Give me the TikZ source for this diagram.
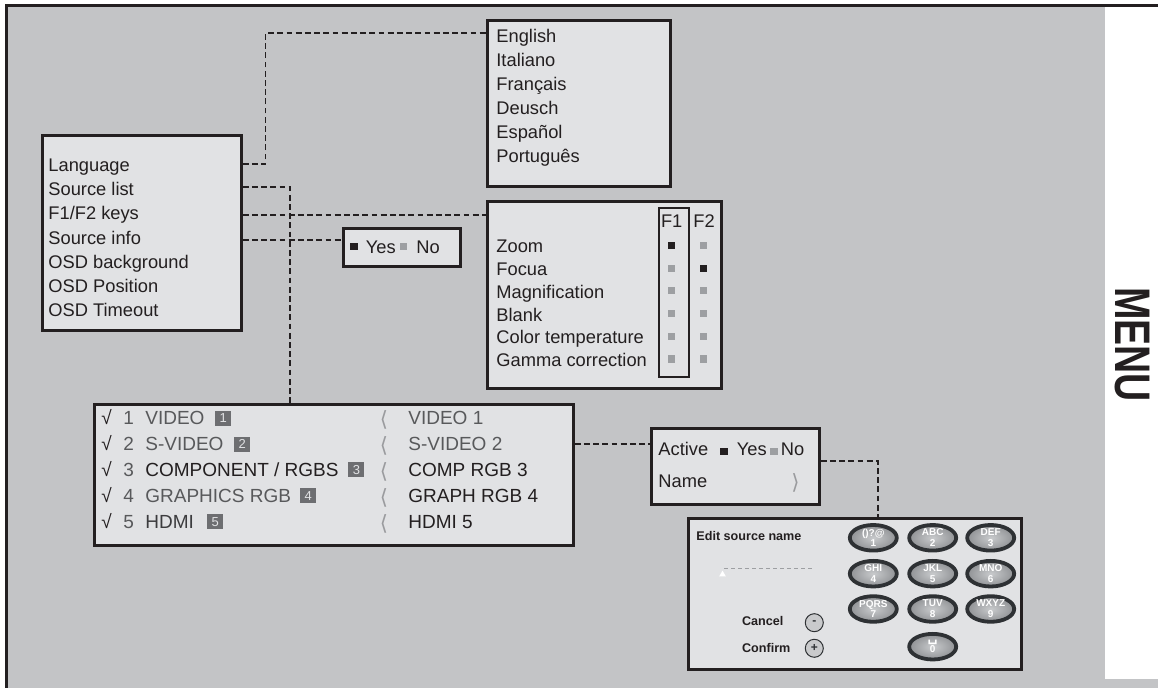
\documentclass[tikz,border=0pt]{standalone}
\usepackage{fontspec}
\setmainfont{Liberation Sans}
\newfontfamily\symfont{DejaVu Sans}
\usepackage{graphicx}
\usepackage{xcolor}
\usepackage{tikz}
\usetikzlibrary{positioning,shapes.geometric}
\definecolor{bggray}{HTML}{C3C4C6}
\definecolor{panelfill}{HTML}{E1E2E4}
\definecolor{inkdark}{HTML}{231F20}
\definecolor{txtgray}{HTML}{58595B}
\definecolor{txtdim}{HTML}{3C3C3E}
\definecolor{sqgray}{HTML}{9D9FA2}
\definecolor{chevgray}{HTML}{9A9B9E}
\definecolor{badgegray}{HTML}{6D6E71}
\definecolor{keyring}{HTML}{2E3134}
\definecolor{keylight}{HTML}{C8CACC}
\definecolor{keyfill}{HTML}{909295}
\definecolor{knobfill}{HTML}{C9CACC}
\tikzset{
    panel/.style = {rectangle, draw=inkdark, line width=1.35pt, fill=panelfill, anchor=north west, inner sep=0pt},
    entry/.style = {anchor=base west, inner sep=0pt, text=inkdark, font=\fontsize{9.15}{11}\selectfont},
    srcentry/.style = {anchor=base west, inner sep=0pt, font=\fontsize{9.5}{11}\selectfont},
    editentry/.style = {anchor=base west, inner sep=0pt, text=inkdark, font=\bfseries\fontsize{6.3}{7}\selectfont},
    chevron/.style = {anchor=base west, inner sep=0pt, text=chevgray, font=\symfont\fontsize{10.5}{10.5}\selectfont},
    link/.style = {draw=inkdark, line width=0.55pt, dash pattern=on 2.9pt off 1.7pt},
    sqon/.style = {rectangle, fill=inkdark, minimum size=3.6pt, inner sep=0pt},
    sqoff/.style = {rectangle, fill=sqgray, minimum size=3.6pt, inner sep=0pt},
    badge/.style = {rectangle, fill=badgegray, text=panelfill, minimum width=8pt, minimum height=7.5pt, inner sep=0pt, font=\fontsize{6.5}{6.5}\selectfont},
    key/.style = {ellipse, draw=keyring, line width=1.9pt, inner color=keylight, outer color=keyfill, minimum width=23.5pt, minimum height=12.8pt, inner sep=0pt, text=white, align=center, font=\bfseries\fontsize{5}{5.4}\selectfont},
    knob/.style = {circle, draw=keyring, line width=0.5pt, fill=knobfill, minimum size=9pt, inner sep=0pt, text=keyring, font=\bfseries\fontsize{6}{6}\selectfont}
}
\begin{document}
\begin{tikzpicture}[x=0.5pt, y=-0.5pt]
    \useasboundingbox (0,0) rectangle (1158,688);
    % page
    \fill[bggray] (7,7) rectangle (1158,688);
    \fill[white] (1105,7) rectangle (1158,679);
    \draw[inkdark, line width=1.5pt] (5,5.5) -- (1158,5.5);
    \draw[inkdark, line width=1.5pt] (6.5,5) -- (6.5,688);
    \node[rotate=-90, inner sep=0pt, text=inkdark] (tab) at (1132,344.5) {\scalebox{0.78}[1]{\bfseries\fontsize{25}{25}\selectfont MENU}};

    % main menu
    \node[panel, minimum width=99.5pt, minimum height=97.5pt] (mainmenu) at (41,134) {};
    \foreach \item [count=\i] in {Language, Source list, F1/F2 keys, Source info, OSD background, OSD Position, OSD Timeout}
        \node[entry] (main-\i) at (48,{171.5+24.2*(\i-1)}) {\item};

    % language
    \node[panel, minimum width=91.5pt, minimum height=83pt] (langmenu) at (486,19) {};
    \foreach \item [count=\i] in {English, Italiano, Français, Deusch, Español, Português}
        \node[entry] (lang-\i) at (496,{42.5+24.1*(\i-1)}) {\item};

    % F1/F2 keys
    \node[panel, minimum width=117pt, minimum height=93.5pt] (fmenu) at (486,200) {};
    \node[draw=inkdark, line width=1pt, minimum width=15pt, minimum height=84.5pt, anchor=north west, inner sep=0pt] (f1col) at (658,207) {};
    \node[entry, anchor=base] (f1) at (671.7,228) {F1};
    \node[entry, anchor=base] (f2) at (704,228) {F2};
    \foreach \item/\fone/\ftwo [count=\i] in {Zoom/sqon/sqoff, Focua/sqoff/sqon, Magnification/sqoff/sqoff, Blank/sqoff/sqoff, Color temperature/sqoff/sqoff, Gamma correction/sqoff/sqoff} {
        \node[entry] (fn-\i) at (496,{253+22.7*(\i-1)}) {\item};
        \node[\fone] (f1-\i) at (671.7,{245.5+22.7*(\i-1)}) {};
        \node[\ftwo] (f2-\i) at (703.3,{245.5+22.7*(\i-1)}) {};
    }

    % source info
    \node[panel, minimum width=58.5pt, minimum height=19pt] (yesno) at (342,227) {};
    \node[sqon] (yes-sq) at (354,246.5) {};
    \node[entry] (yes) at (365.5,254) {Yes};
    \node[sqoff] (no-sq) at (403.7,246.5) {};
    \node[entry] (no) at (416,254) {No};

    % source list
    \node[panel, minimum width=239.5pt, minimum height=70.5pt] (srcmenu) at (93,403) {};
    \foreach \name/\alias/\gap/\lcol/\rcol [count=\i] in {VIDEO/VIDEO 1/5pt/txtgray/txtgray, S-VIDEO/S-VIDEO 2/5pt/txtgray/txtgray, {COMPONENT / RGBS}/COMP RGB 3/4.5pt/inkdark/inkdark, GRAPHICS RGB/GRAPH RGB 4/4.2pt/txtgray/inkdark, HDMI/HDMI 5/6.3pt/txtdim/inkdark} {
        \node[srcentry, text=inkdark] (tick-\i) at (101,{425+25.8*(\i-1)}) {√};
        \node[srcentry, text=txtgray] (num-\i) at (123,{425+25.8*(\i-1)}) {\i};
        \node[srcentry, text=\lcol] (src-\i) at (145,{425+25.8*(\i-1)}) {\name};
        \node[badge, right=\gap of src-\i] (badge-\i) {\i};
        \node[chevron] (chev-\i) at (379.5,{427+25.8*(\i-1)}) {⟨};
        \node[srcentry, text=\rcol] (alias-\i) at (408,{425+25.8*(\i-1)}) {\alias};
    }

    % source settings
    \node[panel, minimum width=84pt, minimum height=38pt] (activemenu) at (650,427) {};
    \node[entry] (active) at (658,455.5) {Active};
    \node[sqon] (active-yes-sq) at (724,451.5) {};
    \node[entry] (active-yes) at (736.5,455.5) {Yes};
    \node[sqoff] (active-no-sq) at (774,451.5) {};
    \node[entry] (active-no) at (780.5,455.5) {No};
    \node[entry] (name) at (658,487.5) {Name};
    \node[chevron] (name-chev) at (791,490) {⟩};

    % edit source name
    \node[panel, minimum width=166.5pt, minimum height=75.5pt] (editmenu) at (687,517) {};
    \node[editentry] (edit-title) at (696,541) {Edit source name};
    \coordinate (cursor-start) at (724,569);
    \coordinate (cursor-end) at (813,569);
    \draw[sqgray, line width=0.5pt, dash pattern=on 2pt off 1.5pt] (cursor-start) -- (cursor-end);
    \node[regular polygon, regular polygon sides=3, fill=white, minimum size=3.9pt, inner sep=0pt] (cursor) at (722.5,574.5) {};
    \node[editentry] (cancel) at (741.7,626) {Cancel};
    \node[knob] (cancel-knob) at (814.3,622.7) {-};
    \node[editentry] (confirm) at (741.7,653) {Confirm};
    \node[knob] (confirm-knob) at (814.3,648.3) {+};
    \foreach \letters/\digit/\cx/\cy in {{()?@}/1/873.3/537.8, ABC/2/932.7/537.8, DEF/3/990.7/537.8, GHI/4/873.3/573.7, JKL/5/932.7/573.7, MNO/6/990.7/573.7, PQRS/7/873.3/609, TUV/8/932.7/609, WXYZ/9/990.7/609, {\symfont\fontsize{7}{5.4}\selectfont ␣}/0/932.7/646.7}
        \node[key] (key-\digit) at (\cx,\cy) {\letters\\\digit};

    % connectors
    \draw[link] ([yshift=-15pt]mainmenu.north east) -- ++(11.5pt,0) |- ([yshift=-7pt]langmenu.north west);
    \draw[link] ([yshift=-26.5pt]mainmenu.north east) -| ([xshift=98.5pt]srcmenu.north west);
    \draw[link] ([yshift=-40.5pt]mainmenu.north east) -- ([yshift=-7.5pt]fmenu.north west);
    \draw[link] ([yshift=-53pt]mainmenu.north east) -- ([yshift=-6.5pt]yesno.north west);
    \draw[link] ([yshift=-20.5pt]srcmenu.north east) -- ([yshift=-8.5pt]activemenu.north west);
    \draw[link] ([yshift=-17pt]activemenu.north east) -| ([xshift=95.5pt]editmenu.north west);
\end{tikzpicture}
\end{document}
